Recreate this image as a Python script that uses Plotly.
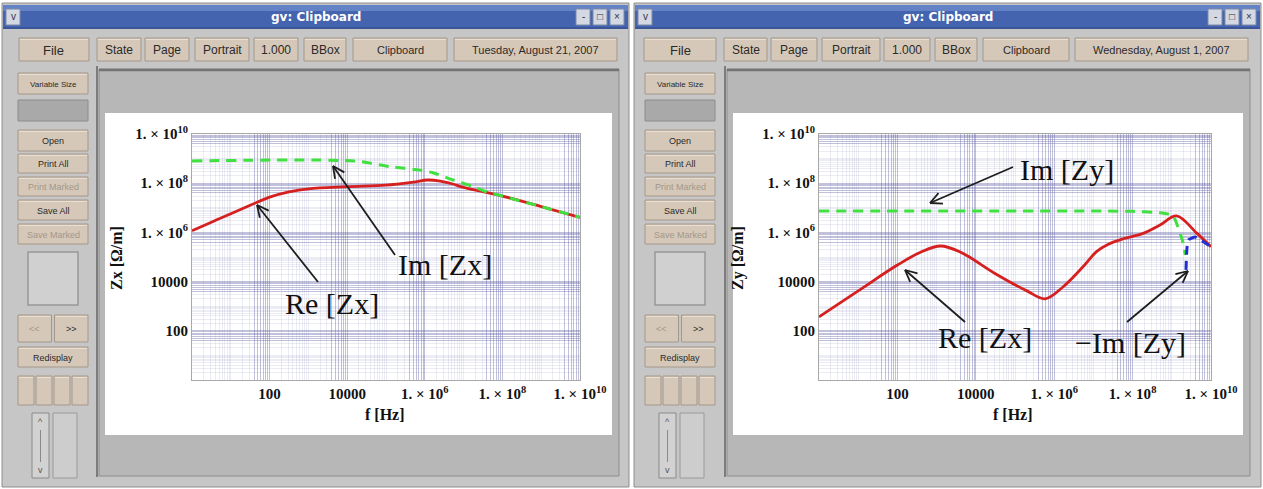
import math
import plotly.graph_objects as go

# ---------------- data ----------------
zx_re_f = [1, 3.16, 10, 31.6, 100, 316, 1e3, 1e4, 1e5, 5e5, 1.2e6, 2.5e6, 5e6, 1e7, 1e8, 1e9, 1e10]
zx_re = [1.17e6, 2.6e6, 5.75e6, 1.26e7, 2.7e7, 4.4e7, 5.9e7, 7.2e7, 8.3e7, 1.1e8, 1.35e8, 1.22e8, 9.5e7, 6.8e7, 3.0e7, 1.12e7, 4.1e6]
zx_im_f = [1, 1.6e4, 1.3e5, 7.6e5, 1.7e6, 5.4e6, 1.8e7, 4e7, 1e8, 1e9, 1e10]
zx_im = [8e8, 7.9e8, 4.7e8, 3.4e8, 2.6e8, 1.35e8, 7.2e7, 4.4e7, 3.0e7, 1.12e7, 4.1e6]

zy_re_f = [1, 10, 100, 400, 1260, 4000, 3.16e4, 2e5, 5.9e5, 1.7e6, 5.5e6, 1.2e7, 2.4e7, 5.75e7, 1.86e8, 5e8, 1.32e9, 4.4e9, 1e10]
zy_re = [370, 4.2e3, 4.7e4, 1.6e5, 2.8e5, 1.6e5, 2.1e4, 4.2e3, 2.0e3, 6.2e3, 4.1e4, 1.65e5, 3.3e5, 5.5e5, 9.1e5, 2.0e6, 4.7e6, 9.1e5, 2.6e5]
zy_im_f = [1, 1e8, 5e8, 1.07e9, 1.95e9, 2.2e9]
zy_im = [7.4e6, 7.2e6, 6.3e6, 4.9e6, 3.7e5, 1.2e5]
zy_nim_f = [2.3e9, 2.45e9, 2.7e9, 3.9e9, 6e9, 1e10]
zy_nim = [3.0e4, 2.5e5, 5.0e5, 6.5e5, 4.5e5, 2.6e5]

decades = list(range(0, 11))
major_label_decades = [2, 4, 6, 8, 10]

W, H = 1263, 489
shapes, ann = [], []


def rect(x0, y0, x1, y1, fill, line=None, lw=1):
    shapes.append(dict(type="rect", xref="paper", yref="paper",
                       x0=x0 / W, x1=x1 / W, y0=1 - y1 / H, y1=1 - y0 / H,
                       fillcolor=fill,
                       line=dict(color=line if line else fill, width=lw if line else 0),
                       layer="below"))


def seg(x0, y0, x1, y1, color, w=1, layer="below"):
    shapes.append(dict(type="line", xref="paper", yref="paper",
                       x0=x0 / W, x1=x1 / W, y0=1 - y0 / H, y1=1 - y1 / H,
                       line=dict(color=color, width=w), layer=layer))


def txt(x, y, s, size, color="#222", family="Liberation Sans", angle=0, xanchor="center"):
    ann.append(dict(xref="paper", yref="paper", x=x / W, y=1 - y / H, text=s,
                    showarrow=False, textangle=angle, xanchor=xanchor, yanchor="middle",
                    font=dict(size=size, color=color, family=family)))


def button(x0, y0, x1, y1, label, size=12, disabled=False):
    rect(x0, y0, x1, y1, "#d6c8b8", "#a69888", 1)
    seg(x0 + 1, y0 + 1.5, x1 - 1, y0 + 1.5, "#e9e0d5", 1)
    if label:
        txt((x0 + x1) / 2, (y0 + y1) / 2 + 0.5, label, size,
            "#a39789" if disabled else "#2a2a2a")


def arrow(tx, ty, hx, hy):
    seg(tx, ty, hx, hy, "#1e1e1e", 1.8, "above")
    ang = math.atan2(ty - hy, tx - hx)
    for d in (0.45, -0.45):
        seg(hx, hy, hx + 13 * math.cos(ang + d), hy + 13 * math.sin(ang + d), "#1e1e1e", 1.8, "above")


def window(wx0, wx1, col0, col1, sep, cv0, cv1, pg0, pg1, top, date):
    rect(wx0, 3, wx1, 487, "#c6c6c6", "#8e8e8e", 1)
    rect(wx0 + 1, 5, wx1 - 1, 29, "#4464b0")
    rect(wx0 + 1, 5, wx1 - 1, 11, "#6482c6")
    rect(wx0 + 1, 27, wx1 - 1, 29, "#3a5598")
    txt((wx0 + wx1) / 2, 17, "<b>gv: Clipboard</b>", 12, "white", "DejaVu Sans")
    rect(wx0 + 4, 9, wx0 + 18, 25, "#d4d8e2", "#7d8aa8", 1)
    txt(wx0 + 11, 17, "v", 10, "#334")
    for i, lab in enumerate(["-", "□", "×"]):
        bx = wx1 - 53 + i * 17
        rect(bx, 9, bx + 14, 25, "#d4d8e2", "#7d8aa8", 1)
        txt(bx + 7, 17, lab, 10, "#334")
    for (x0, x1, lab, sz) in top:
        button(x0, 38, x1, 61, lab, sz)
    button(date[0], 38, date[1], 61, date[2], 11)
    # left column
    button(col0, 73, col1, 94, "Variable Size", 8)
    rect(col0, 100, col1, 121, "#a9a9a9", "#8c8c8c", 1)
    button(col0, 130, col1, 151, "Open", 9)
    button(col0, 154, col1, 173, "Print All", 9)
    button(col0, 177, col1, 196, "Print Marked", 9, True)
    button(col0, 200, col1, 220, "Save All", 9)
    button(col0, 224, col1, 244, "Save Marked", 9, True)
    rect(col0 + 10, 252, col1 - 10, 305, "#d0d0d0", "#989898", 1.5)
    mid = (col0 + col1) / 2
    button(col0, 315, mid - 1.5, 342, "&lt;&lt;", 9, True)
    button(mid + 1.5, 315, col1, 342, "&gt;&gt;", 9)
    button(col0, 347, col1, 367, "Redisplay", 9)
    bw = (col1 - col0 - 6) / 4
    for i in range(4):
        bx = col0 + i * (bw + 2)
        button(bx, 376, bx + bw, 405, "", 9)
    rect(col0 + 14, 413, col0 + 31, 478, "#d2d2d2", "#8a8a8a", 1)
    txt(col0 + 22.5, 422, "^", 9, "#555")
    txt(col0 + 22.5, 470, "v", 9, "#555")
    seg(col0 + 22.5, 430, col0 + 22.5, 462, "#8a8a8a", 1)
    rect(col0 + 35, 413, col0 + 59, 478, "#cdcdcd", "#9a9a9a", 1)
    # canvas + page
    seg(sep, 66, sep, 477, "#7c7c7c", 2)
    rect(cv0, 69, cv1, 476, "#b7b7b7", "#8c8c8c", 1)
    seg(cv0, 70, cv1, 70, "#747474", 2.5)
    rect(pg0, 113, pg1, 435, "#ffffff")


window(2, 629, 18, 88, 97, 99, 619, 105, 612,
       [(19, 89, "File", 13), (97, 141, "State", 12), (145, 189, "Page", 12),
        (195, 249, "Portrait", 12), (254, 298, "1.000", 12), (304, 346, "BBox", 12),
        (353, 447, "Clipboard", 11)],
       (454, 617, "Tuesday, August 21, 2007"))
window(634, 1261, 645, 715, 725, 727, 1250, 733, 1243,
       [(644, 716, "File", 13), (724, 767, "State", 12), (771, 817, "Page", 12),
        (822, 880, "Portrait", 12), (884, 930, "1.000", 12), (935, 977, "BBox", 12),
        (983, 1069, "Clipboard", 11)],
       (1075, 1248, "Wednesday, August 1, 2007"))

# ---------------- axes ----------------
dark_vals, light_vals = [], []
for k in decades[:-1]:
    for m in range(1, 10):
        v = m * 10 ** k
        if m == 1:
            (dark_vals if k % 2 == 0 else light_vals).append(v)
        elif k % 2 == 1 and m >= 4:
            dark_vals.append(v)
        else:
            light_vals.append(v)
dark_vals.append(10 ** decades[-1])


def lab(v):
    k = round(math.log10(v))
    if abs(v - 10 ** k) > 1e-9 * v or k not in major_label_decades:
        return ""
    if k <= 4:
        return "<b>%d</b>" % (10 ** k)
    return "<b>1. × 10<sup>%d</sup></b>" % k


ticktext = [lab(v) for v in dark_vals]


def axis(domain, anchor):
    return dict(type="log", range=[0, 10], domain=domain, anchor=anchor, automargin=False,
                tickmode="array", tickvals=dark_vals, ticktext=ticktext,
                showgrid=True, gridcolor="rgba(100,100,168,0.40)", gridwidth=1,
                minor=dict(tickmode="array", tickvals=light_vals, showgrid=True,
                           gridcolor="rgba(120,120,175,0.14)", gridwidth=1, ticks=""),
                ticks="", showline=True, linecolor="#a8a8a8", linewidth=1, mirror=True,
                zeroline=False, tickfont=dict(family="Liberation Serif", size=15, color="#111"),
                fixedrange=True)


ydom = [1 - 380 / H, 1 - 134 / H]
layout = dict(
    template="none",
    width=W, height=H, autosize=False, margin=dict(l=0, r=0, t=0, b=0, pad=0, autoexpand=False),
    paper_bgcolor="white", plot_bgcolor="white", showlegend=False,
    xaxis=axis([192 / W, 580 / W], "y"),
    yaxis=axis(ydom, "x"),
    xaxis2=axis([819 / W, 1211 / W], "y2"),
    yaxis2=axis(ydom, "x2"),
)

fig = go.Figure()
red = dict(color="#d62020", width=2.8)
green = dict(color="#3fe03f", width=3, dash="10px,7px")
blue = dict(color="#2030d0", width=3, dash="9px,6px")
fig.add_trace(go.Scatter(x=zx_re_f, y=zx_re, mode="lines", line=dict(shape="spline", smoothing=1.0, **red), xaxis="x", yaxis="y"))
fig.add_trace(go.Scatter(x=zx_im_f, y=zx_im, mode="lines", line=dict(shape="spline", smoothing=0.8, **green), xaxis="x", yaxis="y"))
fig.add_trace(go.Scatter(x=zy_re_f, y=zy_re, mode="lines", line=dict(shape="spline", smoothing=1.0, **red), xaxis="x2", yaxis="y2"))
fig.add_trace(go.Scatter(x=zy_im_f, y=zy_im, mode="lines", line=dict(shape="spline", smoothing=0.4, **green), xaxis="x2", yaxis="y2"))
fig.add_trace(go.Scatter(x=zy_nim_f, y=zy_nim, mode="lines", line=dict(shape="spline", smoothing=0.5, **blue), xaxis="x2", yaxis="y2"))

# axis titles
txt(116, 258, "<b>Zx [Ω/m]</b>", 16, "#111", "Liberation Serif", -90)
txt(738, 258, "<b>Zy [Ω/m]</b>", 16, "#111", "Liberation Serif", -90)
txt(385, 414, "<b>f [Hz]</b>", 16, "#111", "Liberation Serif")
txt(1013, 414, "<b>f [Hz]</b>", 16, "#111", "Liberation Serif")

# curve labels and arrows
serif = "Liberation Serif"
txt(332, 303, "Re [Zx]", 30, "#111", serif)
txt(445, 264, "Im [Zx]", 30, "#111", serif)
arrow(318, 282, 257, 205)
arrow(395, 255, 333, 166)

txt(1067, 170, "Im [Zy]", 30, "#111", serif)
txt(985, 337, "Re [Zx]", 30, "#111", serif)
txt(1130, 342, "\u2212Im [Zy]", 30, "#111", serif)
arrow(1013, 167, 930, 203)
arrow(965, 322, 905, 270)
arrow(1127, 322, 1188, 271)

layout["shapes"] = shapes
layout["annotations"] = ann
fig.update_layout(**layout)
fig.write_html("out.html",
               config={"displayModeBar": False},
               post_script="document.body.style.margin='0';document.body.style.overflow='hidden';")
